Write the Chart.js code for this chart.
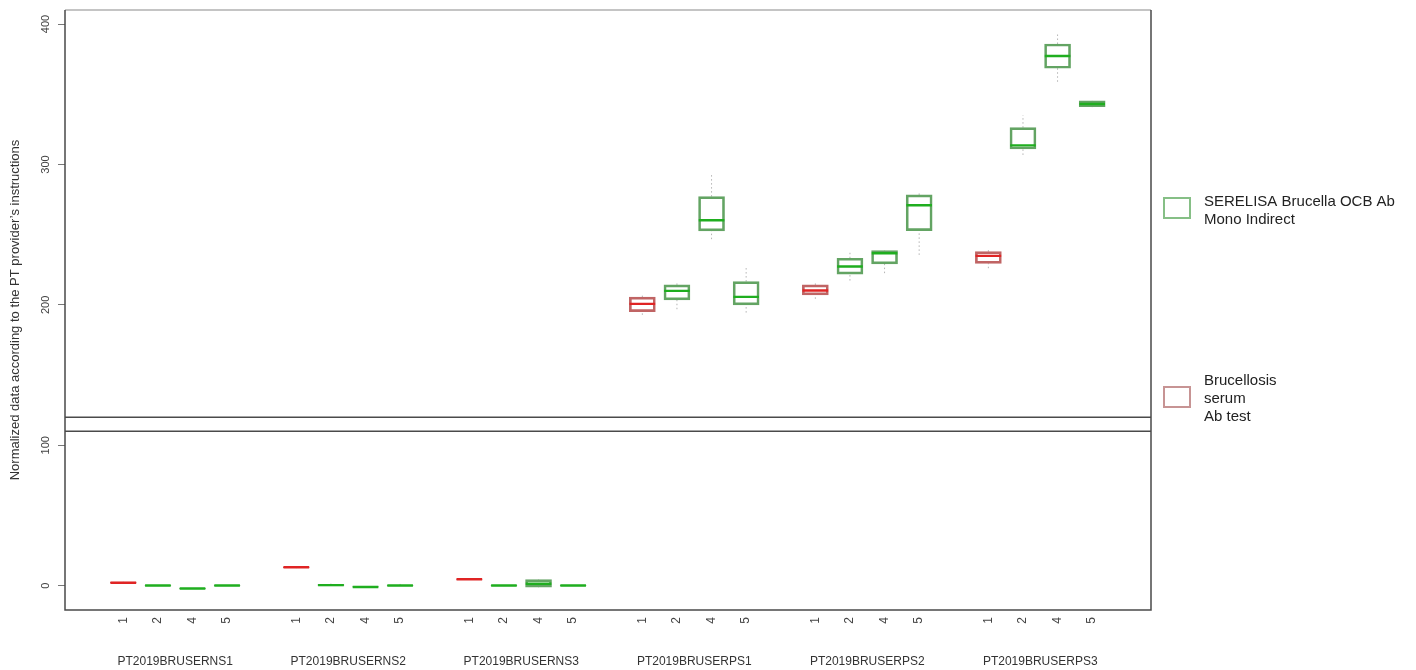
<!DOCTYPE html>
<html>
<head>
<meta charset="utf-8">
<script src="https://cdn.jsdelivr.net/npm/chart.js@4/dist/chart.umd.min.js"></script>
<style>
  html, body { margin: 0; padding: 0; background: #fff; }
  #wrap { width: 1416px; height: 670px; }
</style>
</head>
<body>
<div id="wrap"><canvas id="c" width="1416" height="670"></canvas></div>
<script>
// Proficiency-test panels and the method codes reported within each panel
const groups = ['PT2019BRUSERNS1', 'PT2019BRUSERNS2', 'PT2019BRUSERNS3',
                'PT2019BRUSERPS1', 'PT2019BRUSERPS2', 'PT2019BRUSERPS3'];
const methods = ['1', '2', '4', '5'];

// Which kit each method code belongs to (0 = Brucellosis serum Ab test, 1 = SERELISA)
const methodKit = [0, 1, 1, 1];
const kitNames = [['Brucellosis', 'serum', 'Ab test'], ['SERELISA Brucella OCB Ab', 'Mono Indirect']];

// Box statistics per panel x method (panel-major order)
const lower  = [ 1.6, -0.3, -2.4, -0.2,   12.5, -0.2, -1.3, -0.2,   4.2, -0.3, -1.3, -0.2,
                 192.9, 196.9, 246.8, 194.5,   204.3, 217.3, 222.6, 235.6,   226.1, 306.8, 358.9, 340.8];
const q1     = [ 1.8, -0.1, -2.2, -0.1,   12.8, -0.1, -1.1, -0.1,   4.4, -0.1, -1.1, -0.1,
                 195.2, 203.6, 252.7, 200.0,   207.1, 221.9, 229.2, 252.9,   229.6, 311.0, 368.5, 341.1];
const median = [ 2.1,  0.1, -2.0,  0.1,   13.1,  0.4, -0.9,  0.1,   4.6,  0.1,  1.4,  0.1,
                 200.7, 210.0, 260.3, 205.7,   210.2, 227.3, 236.8, 271.0,   234.9, 313.6, 377.2, 343.1];
const q3     = [ 2.5,  0.2, -1.8,  0.2,   13.5,  1.0, -0.7,  0.2,   4.8,  0.2,  4.3,  0.2,
                 205.5, 214.2, 277.1, 216.6,   214.2, 233.2, 238.7, 278.3,   237.9, 326.2, 385.8, 345.4];
const upper  = [ 2.8,  0.4, -1.6,  0.4,   13.8,  1.5, -0.5,  1.6,   5.0,  0.4,  4.6,  0.4,
                 207.6, 216.6, 292.5, 227.3,   216.6, 237.2, 239.0, 280.2,   239.6, 335.1, 392.9, 345.5];

// Acceptance limits drawn as horizontal reference lines
const refLines = [110, 120];
const yTicks = [0, 100, 200, 300, 400];
const yTitle = 'Normalized data according to the PT provider\u2019s instructions';

// ---- layout of the boxes along the x axis ----
const X_MIN = -0.685, X_MAX = 30.7, HALF = 0.37;
const positions = [];
groups.forEach((g, gi) => methods.forEach((m, mi) => positions.push(1 + gi * 5 + mi)));
const groupCenters = groups.map((g, gi) => 1 + gi * 5 + (methods.length - 1) / 2);

const kitBorder = ['#c06464', '#63a463'];
const kitMedian = ['#e02424', '#1fae1f'];
const kitLegend = ['#c79494', '#86bf86'];

function boxData(kit) {
  const out = [];
  positions.forEach((p, i) => {
    if (methodKit[i % methods.length] === kit) out.push({ x: p, y: [q1[i], q3[i]] });
  });
  return out;
}
function medianData(kit) {
  const out = [];
  positions.forEach((p, i) => {
    if (methodKit[i % methods.length] !== kit) return;
    out.push({ x: p - HALF, y: median[i] }, { x: p + HALF, y: median[i] }, { x: p, y: null });
  });
  return out;
}
function whiskerData() {
  const out = [];
  positions.forEach((p, i) => {
    out.push({ x: p, y: q3[i] }, { x: p, y: upper[i] }, { x: p, y: null });
    out.push({ x: p, y: lower[i] }, { x: p, y: q1[i] }, { x: p, y: null });
  });
  return out;
}

const lineBase = { type: 'line', pointRadius: 0, spanGaps: false, fill: false, tension: 0 };

const datasets = [
  { ...lineBase, label: 'median-0', data: medianData(0), borderColor: kitMedian[0], borderWidth: 2.4, order: 0 },
  { ...lineBase, label: 'median-1', data: medianData(1), borderColor: kitMedian[1], borderWidth: 2.4, order: 0 },
  { type: 'bar', label: kitNames[0].join(' '), data: boxData(0), backgroundColor: 'rgba(255,255,255,0)',
    borderColor: kitBorder[0], borderWidth: 2, borderSkipped: false, barThickness: 26, grouped: false, order: 1 },
  { type: 'bar', label: kitNames[1].join(' '), data: boxData(1), backgroundColor: 'rgba(255,255,255,0)',
    borderColor: kitBorder[1], borderWidth: 2, borderSkipped: false, barThickness: 26, grouped: false, order: 1 },
  { ...lineBase, label: 'whiskers', data: whiskerData(), borderColor: '#b4b4b4', borderWidth: 1,
    borderDash: [1.5, 2.5], order: 2 },
];
refLines.forEach(v => datasets.push({ ...lineBase, label: 'limit ' + v,
  data: [{ x: X_MIN, y: v }, { x: X_MAX, y: v }], borderColor: '#4a4a4a', borderWidth: 1.6, order: 3 }));

// Plot frame (R-style box around the panel)
const framePlugin = {
  id: 'frame',
  afterDraw(chart) {
    const { ctx, chartArea: a } = chart;
    ctx.save();
    ctx.lineWidth = 1.5;
    ctx.strokeStyle = '#b0b0b0';
    ctx.beginPath(); ctx.moveTo(a.left, a.top); ctx.lineTo(a.right, a.top); ctx.stroke();
    ctx.strokeStyle = '#4a4a4a';
    ctx.beginPath();
    ctx.moveTo(a.left, a.top); ctx.lineTo(a.left, a.bottom); ctx.lineTo(a.right, a.bottom); ctx.lineTo(a.right, a.top);
    ctx.stroke();
    ctx.restore();
  }
};

// Legend at the right of the plot: one empty box per kit with wrapped names
const legendPlugin = {
  id: 'kitLegend',
  afterDraw(chart) {
    const { ctx, chartArea: a } = chart;
    const entries = [
      { kit: 1, boxTop: 198 },
      { kit: 0, boxTop: 387 },
    ];
    ctx.save();
    ctx.font = '15px "Liberation Sans", Arial, sans-serif';
    ctx.fillStyle = '#222';
    ctx.textBaseline = 'alphabetic';
    entries.forEach(e => {
      const bx = a.right + 13;
      ctx.strokeStyle = kitLegend[e.kit];
      ctx.lineWidth = 2;
      ctx.strokeRect(bx, e.boxTop, 26, 20);
      const lines = kitNames[e.kit];
      const lh = 18;
      const first = e.kit === 1 ? e.boxTop + 8 : e.boxTop - 2;
      lines.forEach((t, k) => ctx.fillText(t, bx + 40, first + k * lh));
    });
    ctx.restore();
  }
};

new Chart(document.getElementById('c'), {
  data: { datasets },
  options: {
    responsive: false,
    animation: false,
    events: [],
    layout: { padding: { top: 10, right: 265, left: 0, bottom: 0 } },
    plugins: { legend: { display: false }, tooltip: { enabled: false } },
    scales: {
      x: {
        type: 'linear', position: 'bottom', min: X_MIN, max: X_MAX, weight: 0, offset: false,
        afterBuildTicks: s => { s.ticks = positions.map(v => ({ value: v })); },
        afterFit: s => { s.height = 38; },
        grid: { display: false, drawTicks: false, offset: false },
        border: { display: false },
        ticks: {
          autoSkip: false, minRotation: 90, maxRotation: 90, padding: 7,
          color: '#444', font: { size: 12, family: '"Liberation Sans", Arial, sans-serif' },
          callback: v => methods[(positions.indexOf(v)) % methods.length]
        }
      },
      x2: {
        type: 'linear', position: 'bottom', min: X_MIN, max: X_MAX, weight: 1, offset: false,
        afterBuildTicks: s => { s.ticks = groupCenters.map(v => ({ value: v })); },
        afterFit: s => { s.height = 22; },
        grid: { display: false, drawTicks: false, offset: false },
        border: { display: false },
        ticks: {
          autoSkip: false, minRotation: 0, maxRotation: 0, padding: 6,
          color: '#333', font: { size: 12, family: '"Liberation Sans", Arial, sans-serif' },
          callback: v => groups[groupCenters.indexOf(v)]
        }
      },
      y: {
        type: 'linear', position: 'left', min: -17.3, max: 410,
        afterBuildTicks: s => { s.ticks = yTicks.map(v => ({ value: v })); },
        afterFit: s => { s.width = 65; },
        grid: { drawOnChartArea: false, drawTicks: true, tickLength: 7, color: '#777', tickColor: '#777' },
        border: { display: false },
        ticks: {
          minRotation: 90, maxRotation: 90, crossAlign: 'center', padding: 3,
          color: '#444', font: { size: 11, family: '"Liberation Sans", Arial, sans-serif' }
        },
        title: {
          display: true, text: yTitle, color: '#333',
          font: { size: 13, family: '"Liberation Sans", Arial, sans-serif' },
          padding: { top: 8, bottom: 0 }
        }
      }
    }
  },
  plugins: [framePlugin, legendPlugin]
});
</script>
</body>
</html>
